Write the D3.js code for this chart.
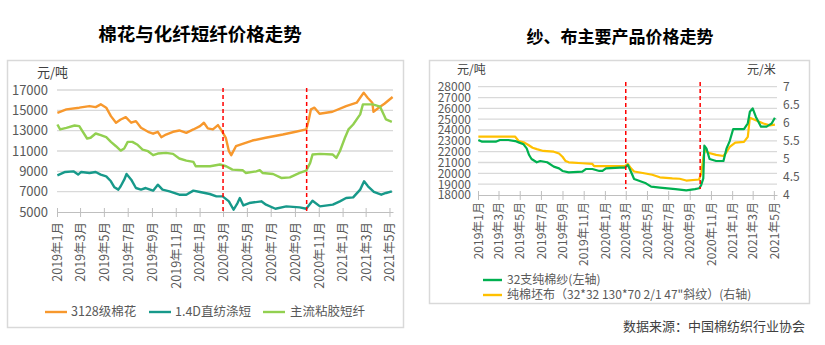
<!DOCTYPE html>
<html><head><meta charset="utf-8">
<script src="https://cdn.jsdelivr.net/npm/d3@7"></script>
<style>
body{margin:0;background:#fff}
svg{display:block}
text{font-family:"Noto Sans CJK SC","Microsoft YaHei",sans-serif}
</style>
</head><body>
<svg id="c" width="825" height="345"></svg>
<script>
// ---------------- DATA ----------------
const leftTitle = "棉花与化纤短纤价格走势";
const rightTitle = "纱、布主要产品价格走势";
const sourceText = "数据来源：中国棉纺织行业协会";
const leftSeriesNames = ["3128级棉花", "1.4D直纺涤短", "主流粘胶短纤"];
const rightSeriesNames = ["32支纯棉纱(左轴)", "纯棉坯布（32*32 130*70 2/1 47\"斜纹）(右轴)"];
const leftYTicks = [5000, 7000, 9000, 11000, 13000, 15000, 17000];
const rightYTicksL = [18000,19000,20000,21000,22000,23000,24000,25000,26000,27000,28000];
const rightYTicksR = [4, 4.5, 5, 5.5, 6, 6.5, 7];
const xTickDates = ["2019-01-01","2019-03-01","2019-05-01","2019-07-01","2019-09-01","2019-11-01",
  "2020-01-01","2020-03-01","2020-05-01","2020-07-01","2020-09-01","2020-11-01",
  "2021-01-01","2021-03-01","2021-05-01"];
const xDomain = ["2019-01-01", "2021-05-10"];
const eventDates = ["2020-03-01", "2020-10-01"];

const cotton = [
 ["2019-01-02",14760],["2019-01-25",15090],["2019-02-27",15260],["2019-03-25",15420],["2019-04-10",15320],
 ["2019-04-23",15590],["2019-05-07",15260],["2019-05-19",14430],["2019-06-01",13780],["2019-06-13",14100],
 ["2019-06-26",14330],["2019-07-10",13780],["2019-07-22",13940],["2019-08-04",13280],["2019-08-22",12890],
 ["2019-09-04",12700],["2019-09-16",12890],["2019-09-25",12360],["2019-10-07",12620],["2019-10-25",12890],
 ["2019-11-10",13020],["2019-11-28",12790],["2019-12-16",13120],["2020-01-02",13450],["2020-01-12",13780],
 ["2020-01-22",13220],["2020-02-04",13120],["2020-02-17",13550],["2020-02-26",13020],["2020-03-08",12300],
 ["2020-03-16",10980],["2020-03-22",10590],["2020-04-03",11470],["2020-04-20",11700],["2020-05-15",12030],
 ["2020-06-18",12300],["2020-08-01",12620],["2020-09-03",12890],["2020-09-30",13120],["2020-10-06",14000],
 ["2020-10-12",15100],["2020-10-21",15260],["2020-11-03",14660],["2020-12-06",14860],["2021-01-10",15420],
 ["2021-02-06",15750],["2021-02-24",16740],["2021-03-06",16240],["2021-03-18",15750],["2021-03-21",14860],
 ["2021-04-06",15320],["2021-04-18",15650],["2021-05-09",16310]
];
const polyester = [
 ["2019-01-02",8610],["2019-01-22",8940],["2019-02-12",9000],["2019-02-24",8680],["2019-03-04",8940],
 ["2019-03-25",8840],["2019-04-10",8940],["2019-04-23",8680],["2019-05-07",8510],["2019-05-19",8020],
 ["2019-05-28",7430],["2019-06-07",7200],["2019-06-13",7530],["2019-06-22",8180],["2019-06-28",8740],
 ["2019-07-10",8180],["2019-07-22",7360],["2019-08-04",7200],["2019-08-16",7360],["2019-09-04",7100],
 ["2019-09-16",7690],["2019-09-28",7200],["2019-10-16",7030],["2019-11-10",6700],["2019-11-28",6700],
 ["2019-12-16",7100],["2020-01-02",6970],["2020-01-27",6770],["2020-02-13",6540],["2020-02-29",6540],
 ["2020-03-16",6050],["2020-03-28",5220],["2020-04-07",5880],["2020-04-13",6380],["2020-04-22",5650],
 ["2020-05-07",5880],["2020-06-07",6050],["2020-06-19",5720],["2020-07-13",5320],["2020-08-10",5550],
 ["2020-09-13",5450],["2020-09-30",5320],["2020-10-16",6110],["2020-11-04",5550],["2020-12-07",5720],
 ["2020-12-25",6050],["2021-01-10",6380],["2021-01-28",6440],["2021-02-15",7200],["2021-02-25",8020],
 ["2021-03-07",7530],["2021-03-22",6970],["2021-04-10",6700],["2021-04-22",6870],["2021-05-07",7030]
];
const viscose = [
 ["2019-01-02",13610],["2019-01-09",13120],["2019-01-25",13280],["2019-02-15",13510],["2019-02-27",13450],
 ["2019-03-07",12950],["2019-03-19",12230],["2019-03-28",12300],["2019-04-10",12720],["2019-04-23",12560],
 ["2019-05-07",12360],["2019-05-19",11900],["2019-06-01",11470],["2019-06-13",11040],["2019-06-22",11240],
 ["2019-07-01",11900],["2019-07-13",11900],["2019-07-25",11640],["2019-08-08",11140],["2019-08-22",10980],
 ["2019-09-04",10590],["2019-09-16",10750],["2019-10-07",10820],["2019-10-25",10720],["2019-11-10",10260],
 ["2019-11-28",10060],["2019-12-16",9930],["2019-12-22",9500],["2020-01-28",9500],["2020-02-22",9670],
 ["2020-03-09",9500],["2020-03-25",9170],["2020-04-20",9110],["2020-04-28",8840],["2020-05-25",9000],
 ["2020-06-03",9110],["2020-06-10",8840],["2020-07-07",8740],["2020-07-28",8350],["2020-08-19",8410],
 ["2020-09-13",8840],["2020-09-30",9070],["2020-10-10",9830],["2020-10-16",10650],["2020-11-04",10720],
 ["2020-12-07",10650],["2020-12-16",10320],["2020-12-25",10980],["2021-01-07",12300],["2021-01-16",13120],
 ["2021-01-28",13610],["2021-02-15",14600],["2021-02-22",15590],["2021-03-19",15590],["2021-04-07",15360],
 ["2021-04-22",14100],["2021-05-07",13870]
];
const yarn = [
 ["2019-01-02",23080],["2019-01-13",22920],["2019-02-21",22920],["2019-03-05",23080],["2019-03-29",23080],
 ["2019-04-18",22980],["2019-04-28",22860],["2019-05-12",22680],["2019-05-21",22310],["2019-05-28",21690],
 ["2019-06-04",21320],["2019-06-19",21020],["2019-06-29",21140],["2019-07-19",21020],["2019-08-07",20620],
 ["2019-08-22",20460],["2019-09-01",20220],["2019-09-19",20090],["2019-10-28",20150],["2019-11-07",20400],
 ["2019-11-26",20400],["2019-12-16",20220],["2019-12-25",20220],["2020-01-04",20460],["2020-02-13",20520],
 ["2020-02-27",20520],["2020-03-07",20770],["2020-03-16",20150],["2020-03-25",19480],["2020-04-10",19290],
 ["2020-04-28",19080],["2020-05-13",18770],["2020-06-07",18680],["2020-07-22",18550],["2020-08-22",18430],
 ["2020-09-16",18550],["2020-09-28",18620],["2020-10-04",18920],["2020-10-10",19540],["2020-10-13",22550],
 ["2020-10-19",22310],["2020-10-28",21320],["2020-11-16",21140],["2020-12-07",21140],["2020-12-16",22310],
 ["2020-12-25",22980],["2021-01-04",24090],["2021-01-19",24090],["2021-02-04",24090],["2021-02-15",24620],
 ["2021-02-21",25690],["2021-03-01",26000],["2021-03-10",25230],["2021-03-25",24310],["2021-04-10",24310],
 ["2021-04-25",24620],["2021-05-04",25140]
];
const cloth = [
 ["2019-01-02",5.615],["2019-04-18",5.615],["2019-04-28",5.495],["2019-05-12",5.46],["2019-05-26",5.385],
 ["2019-06-07",5.31],["2019-06-19",5.27],["2019-07-08",5.22],["2019-08-07",5.20],["2019-08-22",5.15],
 ["2019-09-01",5.06],["2019-09-10",4.94],["2019-09-19",4.905],["2019-10-28",4.88],["2019-11-26",4.86],
 ["2019-12-01",4.80],["2020-02-27",4.80],["2020-03-07",4.86],["2020-03-16",4.74],["2020-03-25",4.65],
 ["2020-04-19",4.61],["2020-05-16",4.56],["2020-06-07",4.49],["2020-07-13",4.46],["2020-08-03",4.45],
 ["2020-08-22",4.40],["2020-09-28",4.43],["2020-10-04",4.59],["2020-10-11",5.10],["2020-10-16",5.26],
 ["2020-10-24",5.17],["2020-11-16",5.11],["2020-12-07",5.08],["2020-12-16",5.19],["2020-12-25",5.33],
 ["2021-01-10",5.45],["2021-02-04",5.47],["2021-02-15",5.61],["2021-02-21",6.14],["2021-03-10",6.07],
 ["2021-04-01",5.98],["2021-04-19",5.93],["2021-05-04",5.95]
];

// ---------------- DRAW ----------------
const parse = d3.timeParse("%Y-%m-%d");
const svg = d3.select("#c");
const gray = "#595959";
const gridColor = "#d9d9d9";
const fmtMonth = d => `${d.getFullYear()}年${d.getMonth() + 1}月`;
const tickDates = xTickDates.map(parse);
const dom = xDomain.map(parse);

// panel frames
svg.append("rect").attr("x", 7.5).attr("y", 60.5).attr("width", 396).attr("height", 267)
  .attr("fill", "#fff").attr("stroke", gridColor).attr("stroke-width", 1.5);
svg.append("rect").attr("x", 429.5).attr("y", 60.5).attr("width", 380).attr("height", 243)
  .attr("fill", "#fff").attr("stroke", gridColor).attr("stroke-width", 1.5);

// titles
svg.append("text").attr("x", 200).attr("y", 41).attr("text-anchor", "middle")
  .style("font-size", "18.5px").style("font-weight", "bold").attr("fill", "#000").text(leftTitle);
svg.append("text").attr("x", 620).attr("y", 43).attr("text-anchor", "middle")
  .style("font-size", "17px").style("font-weight", "bold").attr("fill", "#000").text(rightTitle);
svg.append("text").attr("x", 805).attr("y", 331).attr("text-anchor", "end")
  .style("font-size", "13px").attr("fill", "#404040").text(sourceText);

function drawXAxis(g, x, y0, labelOffset, fontSize) {
  const ax = d3.axisBottom(x).tickValues(tickDates).tickFormat(fmtMonth).tickSizeInner(5).tickSizeOuter(0);
  const a = g.append("g").attr("transform", `translate(0,${y0})`).call(ax);
  a.select(".domain").attr("stroke", "#bfbfbf").attr("stroke-width", 1.2);
  a.selectAll(".tick line").attr("stroke", "#bfbfbf").attr("y1", -4).attr("y2", 5);
  a.selectAll(".tick text").attr("y", 0).attr("x", -labelOffset).attr("dy", "0.35em")
    .attr("transform", "rotate(-90)").style("text-anchor", "end")
    .style("font-size", fontSize).attr("fill", gray);
  a.attr("font-family", null);
}

// ---------- LEFT CHART ----------
{
  const x = d3.scaleTime().domain(dom).range([57, 393]);
  const y = d3.scaleLinear().domain([5000, 17000]).range([212, 90]);
  const g = svg.append("g");
  g.append("g").selectAll("line").data(leftYTicks.filter(v => v !== 5000)).join("line")
    .attr("x1", 57).attr("x2", 393).attr("y1", d => y(d)).attr("y2", d => y(d))
    .attr("stroke", gridColor).attr("stroke-width", 1.3);
  const ya = g.append("g").attr("transform", "translate(57,0)")
    .call(d3.axisLeft(y).tickValues(leftYTicks).tickSize(0).tickPadding(9).tickFormat(d3.format("d")));
  ya.select(".domain").remove();
  ya.attr("font-family", null);
  ya.selectAll("text").style("font-size", "13px").attr("fill", gray);
  g.append("text").attr("x", 37).attr("y", 77).style("font-size", "13px").attr("fill", "#404040").text("元/吨");
  drawXAxis(g, x, 212, 10, "12.5px");

  const line = d3.line().x(d => x(parse(d[0]))).y(d => y(d[1]));
  const series = [[cotton, "#F7982D"], [polyester, "#17998A"], [viscose, "#92D050"]];
  series.forEach(([data, col]) => {
    g.append("path").datum(data).attr("d", line).attr("fill", "none")
      .attr("stroke", col).attr("stroke-width", 2.4).attr("stroke-linejoin", "round");
  });
  eventDates.forEach(dt => {
    g.append("line").attr("x1", x(parse(dt))).attr("x2", x(parse(dt))).attr("y1", 88).attr("y2", 214)
      .attr("stroke", "#FF0000").attr("stroke-width", 1.5).attr("stroke-dasharray", "4,3");
  });
  const lx = [[45, 71], [149, 175], [263, 290]];
  series.forEach(([d, col], i) => {
    g.append("line").attr("x1", lx[i][0]).attr("x2", lx[i][0] + 22).attr("y1", 312).attr("y2", 312)
      .attr("stroke", col).attr("stroke-width", 2.4);
    g.append("text").attr("x", lx[i][1]).attr("y", 312).attr("dy", "0.35em")
      .style("font-size", "12.5px").attr("fill", gray).text(leftSeriesNames[i]);
  });
}

// ---------- RIGHT CHART ----------
{
  const x = d3.scaleTime().domain(dom).range([478, 777]);
  const yL = d3.scaleLinear().domain([18000, 28000]).range([195, 86.7]);
  const yR = d3.scaleLinear().domain([4, 7]).range([195, 86.7]);
  const g = svg.append("g");
  g.append("g").selectAll("line").data(rightYTicksL.filter(v => v !== 18000)).join("line")
    .attr("x1", 478).attr("x2", 777).attr("y1", d => yL(d)).attr("y2", d => yL(d))
    .attr("stroke", gridColor).attr("stroke-width", 1.3);
  const ya = g.append("g").attr("transform", "translate(478,0)")
    .call(d3.axisLeft(yL).tickValues(rightYTicksL).tickSize(0).tickPadding(7).tickFormat(d3.format("d")));
  ya.select(".domain").remove();
  ya.attr("font-family", null);
  ya.selectAll("text").style("font-size", "12px").attr("fill", gray);
  const yb = g.append("g").attr("transform", "translate(777,0)")
    .call(d3.axisRight(yR).tickValues(rightYTicksR).tickSize(0).tickPadding(6).tickFormat(d3.format("")));
  yb.select(".domain").remove();
  yb.attr("font-family", null);
  yb.selectAll("text").style("font-size", "12px").attr("fill", gray);
  g.append("text").attr("x", 457).attr("y", 74).style("font-size", "12px").attr("fill", "#404040").text("元/吨");
  g.append("text").attr("x", 747).attr("y", 74).style("font-size", "12px").attr("fill", "#404040").text("元/米");
  drawXAxis(g, x, 195, 7, "12px");

  const lineL = d3.line().x(d => x(parse(d[0]))).y(d => yL(d[1]));
  const lineR = d3.line().x(d => x(parse(d[0]))).y(d => yR(d[1]));
  g.append("path").datum(cloth).attr("d", lineR).attr("fill", "none")
    .attr("stroke", "#FFC000").attr("stroke-width", 2.2).attr("stroke-linejoin", "round");
  g.append("path").datum(yarn).attr("d", lineL).attr("fill", "none")
    .attr("stroke", "#00B050").attr("stroke-width", 2.2).attr("stroke-linejoin", "round");
  eventDates.forEach(dt => {
    g.append("line").attr("x1", x(parse(dt))).attr("x2", x(parse(dt))).attr("y1", 82).attr("y2", 189)
      .attr("stroke", "#FF0000").attr("stroke-width", 1.5).attr("stroke-dasharray", "4,3");
  });
  const cols = ["#00B050", "#FFC000"];
  [280, 295].forEach((ly, i) => {
    g.append("line").attr("x1", 483).attr("x2", 502).attr("y1", ly).attr("y2", ly)
      .attr("stroke", cols[i]).attr("stroke-width", 2.4);
    g.append("text").attr("x", 507).attr("y", ly).attr("dy", "0.35em")
      .style("font-size", "12px").attr("fill", gray).text(rightSeriesNames[i]);
  });
}
</script>
</body></html>
